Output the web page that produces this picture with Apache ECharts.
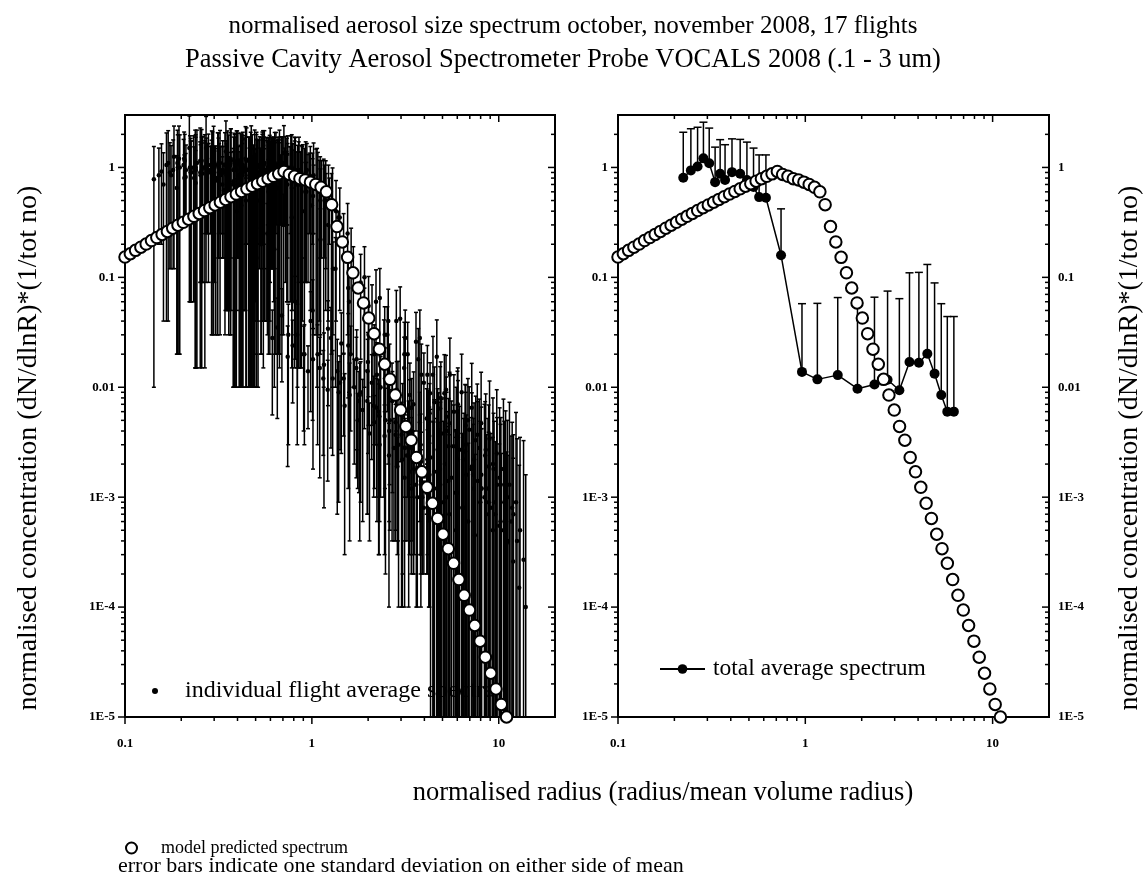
<!DOCTYPE html>
<html>
<head>
<meta charset="utf-8">
<script src="https://cdn.jsdelivr.net/npm/echarts@6/dist/echarts.min.js"></script>
<style>html,body{margin:0;padding:0;background:#fff}#c{width:1147px;height:875px}</style>
</head>
<body>
<div id="c"></div>
<script>
// ---------------- data ----------------
// PCASP bin mid radii (um)
const binRadiusUm = [0.0551,0.0605,0.0657,0.0706,0.0758,0.0815,0.0867,0.0921,0.1003,0.1109,0.1205,0.1307,0.1400,0.1522,0.1833,0.2371,0.2865,0.3680,0.4690,0.5780,0.6790,0.7850,0.8890,0.9980,1.1070,1.2100,1.3140,1.4150,1.5340];
// mean volume radius of the campaign average (um)
const meanMvrUm = 0.247;
// mean volume radius of each of the 17 flights (um)
const flightMvrUm = [0.386,0.363,0.343,0.317,0.291,0.260,0.235,0.206,0.183,0.165,0.150,0.137,0.130,0.124,0.118,0.113,0.110];
// individual flight average spectra (normalised dN/dlnR), one row per flight, one value per bin
const flightMean = [
[0.78,0.92,1.1,1.25,1.0,0.82,0.95,0.72,0.88,0.9,0.76,0.62,0.5,0.4,0.09,0.028,0.019,0.014,0.0095,0.0068,0.005,0.0038,0.003,0.0024,0.0019,0.0015,0.0012,0.001,0.0008],
[0.85,1.05,0.95,1.2,1.15,0.9,1.0,0.85,0.95,0.8,0.7,0.65,0.55,0.45,0.15,0.035,0.024,0.018,0.012,0.0085,0.0062,0.0048,0.0036,0.0028,0.0022,0.0017,0.0013,0.001,0.0008],
[0.7,0.85,1.0,1.05,1.5,1.1,0.9,1.0,0.8,0.85,0.9,0.7,0.6,0.5,0.2,0.045,0.03,0.02,0.014,0.01,0.0075,0.0055,0.004,0.003,0.0024,0.0018,0.0014,0.0011,0.0008],
[0.9,1.1,1.2,1.0,0.95,1.15,1.05,0.9,1.0,0.85,0.75,0.7,0.6,0.55,0.25,0.03,0.02,0.016,0.012,0.009,0.0068,0.005,0.0037,0.0028,0.0021,0.0016,0.0012,0.0009,0.0007],
[0.65,0.8,0.9,1.1,1.0,0.95,1.2,1.1,0.9,0.95,0.8,0.7,0.65,0.5,0.18,0.06,0.04,0.028,0.02,0.014,0.01,0.0075,0.0055,0.004,0.003,0.0022,0.0017,0.0013,0.001],
[0.95,1.0,1.15,1.5,1.2,1.05,0.95,1.1,1.0,0.9,0.85,0.75,0.7,0.6,0.3,0.02,0.015,0.011,0.0085,0.0065,0.005,0.0037,0.0028,0.0021,0.0016,0.0012,0.0009,0.0007,0.0005],
[0.8,0.95,1.05,0.9,1.1,1.4,1.15,0.95,1.05,1.0,0.9,0.8,0.75,0.65,0.35,0.05,0.034,0.024,0.017,0.012,0.0088,0.0065,0.0048,0.0036,0.0027,0.002,0.0015,0.0011,0.0008],
[1.0,1.1,0.95,1.05,1.2,1.1,1.0,1.15,0.9,0.95,1.0,0.85,0.8,0.7,0.4,0.012,0.009,0.0075,0.006,0.0048,0.0038,0.003,0.0023,0.0018,0.0014,0.0011,0.0008,0.0006,0.00045],
[0.75,0.9,1.0,1.1,1.05,0.95,1.2,1.0,1.1,0.9,0.95,0.9,0.8,0.7,0.45,0.12,0.08,0.055,0.04,0.028,0.018,0.0088,0.0064,0.0047,0.0035,0.0026,0.0019,0.0014,0.001],
[0.9,1.05,1.15,1.0,0.95,1.1,1.05,0.9,1.0,0.85,0.8,0.75,0.7,0.6,0.22,0.025,0.018,0.013,0.0095,0.007,0.0052,0.0039,0.0029,0.0022,0.0016,0.0012,0.0009,0.0007,0.0005],
[0.7,0.85,0.95,1.05,1.0,1.15,0.9,1.0,0.95,0.8,0.85,0.7,0.6,0.55,0.3,0.06,0.042,0.03,0.02,0.013,0.0073,0.0054,0.004,0.003,0.0022,0.0016,0.0012,0.0009,0.0006],
[1.1,1.2,1.0,0.9,1.05,1.0,1.1,0.95,0.85,0.9,0.8,0.7,0.65,0.5,0.12,0.015,0.011,0.0085,0.0065,0.005,0.0038,0.0029,0.0022,0.0016,0.0012,0.0009,0.0007,0.0005,0.0004],
[0.85,0.95,1.05,1.1,0.95,1.0,0.9,1.35,1.0,0.95,0.9,0.8,0.7,0.6,0.35,0.09,0.06,0.04,0.026,0.013,0.0095,0.007,0.005,0.0037,0.0027,0.002,0.0015,0.0011,0.0008],
[0.6,0.75,0.85,0.95,1.0,0.9,1.1,1.0,0.95,0.85,0.8,0.75,0.65,0.55,0.2,0.1,0.065,0.042,0.028,0.019,0.013,0.009,0.0065,0.0047,0.0034,0.0025,0.0018,0.0013,0.0009],
[0.9,1.0,1.1,1.2,1.05,1.1,0.95,1.0,0.9,0.95,0.85,0.7,0.6,0.5,0.25,0.03,0.021,0.015,0.011,0.008,0.006,0.0045,0.0033,0.0024,0.0018,0.0013,0.001,0.0007,0.0005],
[0.8,0.9,1.0,0.95,1.1,1.0,0.9,0.95,0.85,0.8,0.75,0.6,0.5,0.4,0.15,0.045,0.03,0.02,0.013,0.0088,0.006,0.0041,0.0028,0.0019,0.0013,0.0009,0.0006,0.0004,0.00027],
[0.7,0.8,0.9,1.0,0.95,0.9,0.85,0.8,0.75,0.7,0.6,0.5,0.45,0.35,0.1,0.02,0.013,0.0085,0.0058,0.004,0.0027,0.0018,0.0012,0.0008,0.00055,0.00038,0.00026,0.00015,0.0001]
];
// one standard deviation of each flight average
const flightSd = [
[0.77,0.72,1.06,1.13,0.98,0.52,0.89,0.705,0.79,0.65,0.73,0.47,0.45,0.39,0.08,0.0224,0.0171,0.0098,0.0081,0.0065,0.0038,0.0034,0.0024,0.0023,0.0016,0.0014,0.001,0.0009,0.0006],
[0.65,1.01,0.83,1.18,0.85,0.84,0.985,0.76,0.7,0.77,0.55,0.6,0.54,0.44,0.13,0.0298,0.0168,0.0162,0.0096,0.0081,0.0056,0.0036,0.0033,0.0024,0.0021,0.0014,0.0012,0.0008,0.0007],
[0.66,0.73,0.98,0.75,1.44,1.085,0.81,0.75,0.77,0.7,0.85,0.69,0.59,0.3,0.18,0.0338,0.027,0.017,0.0133,0.008,0.0068,0.0052,0.0034,0.0029,0.002,0.0015,0.0013,0.0009,0.004],
[0.78,1.08,0.9,0.94,0.935,1.06,0.8,0.87,0.85,0.8,0.74,0.69,0.4,0.51,0.22,0.027,0.016,0.0152,0.0084,0.0081,0.0058,0.0048,0.0033,0.0024,0.0019,0.0014,0.001,0.004,0.0035],
[0.63,0.5,0.84,1.085,0.91,0.7,1.17,0.95,0.85,0.94,0.79,0.5,0.61,0.38,0.17,0.042,0.034,0.0252,0.016,0.0133,0.009,0.0064,0.0053,0.0036,0.0027,0.0019,0.006,0.006,0.005],
[0.65,0.94,1.135,1.41,0.95,1.02,0.8,1.05,0.99,0.89,0.65,0.71,0.58,0.58,0.27,0.017,0.0135,0.0083,0.0081,0.0055,0.0045,0.0036,0.0025,0.0018,0.0015,0.004,0.004,0.003,0.003],
[0.74,0.935,0.96,0.65,1.07,1.25,1.1,0.94,1.04,0.8,0.86,0.68,0.73,0.35,0.3,0.045,0.0272,0.0228,0.0145,0.0108,0.0084,0.0052,0.0042,0.003,0.007,0.006,0.006,0.005,0.005],
[0.985,1.01,0.7,1.02,1.05,1.05,0.99,1.14,0.7,0.91,0.88,0.83,0.5,0.64,0.36,0.0096,0.0081,0.0064,0.0057,0.0043,0.0037,0.0027,0.004,0.003,0.003,0.003,0.003,0.0025,0.002],
[0.66,0.65,0.97,0.95,1.0,0.94,1.19,0.8,1.06,0.78,0.93,0.6,0.74,0.685,0.4,0.09,0.072,0.0468,0.038,0.0224,0.0162,0.0079,0.009,0.009,0.008,0.008,0.007,0.006,0.006],
[0.65,1.02,1.0,0.95,0.94,1.09,0.85,0.86,0.88,0.83,0.5,0.69,0.685,0.51,0.2,0.0225,0.0153,0.0124,0.0076,0.0068,0.0045,0.005,0.005,0.004,0.004,0.004,0.004,0.003,0.003],
[0.67,0.7,0.9,1.04,0.99,0.95,0.86,0.88,0.93,0.5,0.79,0.685,0.51,0.3,0.26,0.051,0.0378,0.024,0.019,0.0117,0.008,0.007,0.006,0.006,0.005,0.005,0.004,0.004,0.004],
[0.95,1.15,0.99,0.89,0.85,0.96,0.98,0.93,0.55,0.84,0.785,0.61,0.4,0.47,0.11,0.0135,0.0088,0.0081,0.0055,0.0044,0.004,0.004,0.003,0.003,0.003,0.003,0.0025,0.002,0.002],
[0.8,0.94,1.04,0.9,0.91,0.88,0.88,1.05,0.94,0.935,0.81,0.55,0.67,0.45,0.3,0.072,0.057,0.036,0.022,0.016,0.01,0.008,0.007,0.007,0.006,0.006,0.005,0.005,0.004],
[0.59,0.74,0.65,0.91,0.88,0.88,0.8,0.94,0.935,0.76,0.55,0.72,0.5,0.5,0.18,0.09,0.0553,0.0399,0.0224,0.022,0.015,0.011,0.01,0.009,0.008,0.007,0.006,0.006,0.005],
[0.89,0.8,1.06,1.08,1.03,0.8,0.89,0.985,0.81,0.7,0.82,0.55,0.55,0.49,0.22,0.0255,0.02,0.0135,0.0095,0.009,0.007,0.006,0.005,0.005,0.004,0.004,0.004,0.003,0.003],
[0.68,0.88,0.7,0.89,1.085,0.91,0.65,0.92,0.7,0.75,0.74,0.59,0.3,0.36,0.13,0.0405,0.024,0.019,0.011,0.011,0.008,0.006,0.005,0.005,0.004,0.004,0.003,0.003,0.003],
[0.64,0.785,0.81,0.75,0.92,0.75,0.8,0.79,0.74,0.5,0.56,0.38,0.43,0.05,0.09,0.017,0.0117,0.0081,0.005,0.005,0.004,0.0035,0.003,0.003,0.0025,0.0022,0.002,0.0018,0.0015]
];
// total average spectrum and its standard deviation
const totalMean = [0.805,0.94,1.02,1.21,1.09,0.735,0.876,0.77,0.906,0.876,0.77,0.663,0.537,0.53,0.159,0.0138,0.0118,0.0129,0.0097,0.0106,0.0117,0.0094,0.017,0.0167,0.0202,0.0133,0.0085,0.006,0.006];
const totalSd = [1.285,1.31,1.30,1.37,1.19,0.795,0.914,0.84,0.914,0.924,0.93,0.837,0.763,0.77,0.261,0.0438,0.0462,0.0526,0.0503,0.0554,0.0633,0.0546,0.093,0.0943,0.1108,0.0757,0.0491,0.038,0.038];
// model predicted spectrum
const modelX = [0.1,0.1068,0.1139,0.1216,0.1298,0.1386,0.148,0.158,0.1686,0.18,
0.1921,0.2051,0.219,0.2337,0.2495,0.2663,0.2843,0.3035,0.324,0.3459,
0.3692,0.3941,0.4207,0.4491,0.4794,0.5117,0.5463,0.5831,0.6225,0.6645,
0.7093,0.757,0.808,0.863,0.921,0.983,1.049,1.12,1.196,1.276,
1.363,1.455,1.553,1.658,1.769,1.889,2.016,2.152,2.298,2.453,
2.618,2.795,2.984,3.185,3.4,3.63,3.875,4.136,4.416,4.713,
5.031,5.37,5.732,6.12,6.531,6.973,7.443,7.946,8.482,9.054,
9.665,10.32,11.01];
const modelY = [0.153,0.164,0.176,0.188,0.201,0.216,0.230,0.246,0.262,0.280,
0.298,0.317,0.338,0.359,0.382,0.405,0.430,0.456,0.483,0.512,
0.542,0.573,0.605,0.639,0.675,0.712,0.750,0.790,0.831,0.874,
0.92,0.864,0.83,0.79,0.77,0.735,0.70,0.66,0.60,0.458,
0.29,0.21,0.152,0.11,0.08,0.0585,0.0426,0.0307,0.0222,0.0162,
0.0118,0.0085,0.0062,0.0044,0.0033,0.0023,0.0017,0.00123,0.00088,0.00064,
0.00046,0.00034,0.00025,0.000178,0.000128,0.000094,0.000068,0.000049,0.000035,0.000025,
0.000018,0.000013,0.00001];
// axes
const X_MIN = 0.1, X_MAX = 20, Y_MIN = 1e-5, Y_MAX = 3;
const xMajorTicks = [0.1, 1, 10];
const yMajorTicks = [1e-5, 1e-4, 1e-3, 0.01, 0.1, 1];
const xTickLabels = ['0.1', '1', '10'];
const yTickLabels = ['1E-5', '1E-4', '1E-3', '0.01', '0.1', '1'];

// ---------------- derived tables ----------------
const xMinorTicks = [], yMinorTicks = [];
xMajorTicks.forEach(m => { for (let k = 2; k <= 9; k++) { const v = +(m * k).toPrecision(6); if (v < X_MAX) xMinorTicks.push(v); } });
yMajorTicks.forEach(m => { for (let k = 2; k <= 9; k++) { const v = +(m * k).toPrecision(6); if (v < Y_MAX) yMinorTicks.push(v); } });

const flightPoints = [];
flightMean.forEach((arr, f) => arr.forEach((m, i) => {
  flightPoints.push([binRadiusUm[i] / flightMvrUm[f], m, flightSd[f][i]]);
}));
const totalPoints = totalMean.map((m, i) => [binRadiusUm[i] / meanMvrUm, m, totalSd[i]]);
const modelPoints = modelX.map((x, i) => [x, modelY[i]]);

const FONT = '"Liberation Serif", "Times New Roman", serif';

function fmtX(v) {
  const e = Math.log10(v); const r = Math.round(e);
  if (Math.abs(e - r) > 1e-6) return '';
  return xTickLabels[r + 1] || '';
}
function fmtY(v) {
  const e = Math.log10(v); const r = Math.round(e);
  if (Math.abs(e - r) > 1e-6) return '';
  return yTickLabels[r + 5] || '';
}

function tickRenderer(params, api) {
  const bl = api.coord([X_MIN, Y_MIN]);
  const tr = api.coord([X_MAX, Y_MAX]);
  const L = bl[0], B = bl[1], R = tr[0], T = tr[1];
  const ch = [];
  const seg = (x1, y1, x2, y2) => ch.push({ type: 'line', shape: { x1, y1, x2, y2 }, style: { stroke: '#000', lineWidth: 1.5 } });
  xMajorTicks.forEach(v => { const p = api.coord([v, Y_MIN])[0]; seg(p, B, p, B + 7); seg(p, T, p, T + 7); });
  xMinorTicks.forEach(v => { const p = api.coord([v, Y_MIN])[0]; seg(p, B, p, B + 4); seg(p, T, p, T + 4); });
  yMajorTicks.forEach(v => { const p = api.coord([X_MIN, v])[1]; seg(L - 7, p, L, p); seg(R - 7, p, R, p); });
  yMinorTicks.forEach(v => { const p = api.coord([X_MIN, v])[1]; seg(L - 4, p, L, p); seg(R - 4, p, R, p); });
  return { type: 'group', children: ch };
}

function flightErrRenderer(params, api) {
  const x = api.value(0), m = api.value(1), sd = api.value(2);
  let lo = m - sd, hi = m + sd;
  const loClamped = lo <= Y_MIN; if (loClamped) lo = Y_MIN;
  const hiClamped = hi >= Y_MAX; if (hiClamped) hi = Y_MAX;
  const pLo = api.coord([x, lo]), pHi = api.coord([x, hi]);
  const st = { stroke: '#000', lineWidth: 1.5 };
  const ch = [{ type: 'line', shape: { x1: pLo[0], y1: pLo[1], x2: pHi[0], y2: pHi[1] }, style: st }];
  if (!hiClamped) ch.push({ type: 'line', shape: { x1: pHi[0] - 2, y1: pHi[1], x2: pHi[0] + 2, y2: pHi[1] }, style: st });
  if (!loClamped) ch.push({ type: 'line', shape: { x1: pLo[0] - 2, y1: pLo[1], x2: pLo[0] + 2, y2: pLo[1] }, style: st });
  return { type: 'group', children: ch };
}

function totalErrRenderer(params, api) {
  const x = api.value(0), m = api.value(1), sd = api.value(2);
  const pM = api.coord([x, m]), pHi = api.coord([x, m + sd]);
  const st = { stroke: '#000', lineWidth: 1.5 };
  return { type: 'group', children: [
    { type: 'line', shape: { x1: pM[0], y1: pM[1], x2: pHi[0], y2: pHi[1] }, style: st },
    { type: 'line', shape: { x1: pHi[0] - 4, y1: pHi[1], x2: pHi[0] + 4, y2: pHi[1] }, style: st }
  ] };
}

const gridBox = { show: true, borderColor: '#000', borderWidth: 2, backgroundColor: 'transparent', containLabel: false };
function xAx(gi) {
  return { type: 'log', logBase: 10, gridIndex: gi, min: X_MIN, max: X_MAX, position: 'bottom',
    axisLine: { show: false }, axisTick: { show: false }, splitLine: { show: false },
    axisLabel: { formatter: fmtX, showMaxLabel: false, showMinLabel: true, margin: 20, color: '#000', fontFamily: FONT, fontWeight: 'bold', fontSize: 13 } };
}
function yAx(gi, pos) {
  return { type: 'log', logBase: 10, gridIndex: gi, min: Y_MIN, max: Y_MAX, position: pos,
    axisLine: { show: false }, axisTick: { show: false }, splitLine: { show: false },
    axisLabel: { formatter: fmtY, showMaxLabel: false, showMinLabel: true, margin: pos === 'left' ? 10 : 9, color: '#000', fontFamily: FONT, fontWeight: 'bold', fontSize: 13 } };
}
const modelStyle = { color: '#fff', borderColor: '#000', borderWidth: 2, opacity: 1 };

const chart = echarts.init(document.getElementById('c'), null, { renderer: 'canvas' });
chart.setOption({
  animation: false,
  backgroundColor: '#fff',
  grid: [
    Object.assign({ left: 125, top: 115, width: 430, height: 602 }, gridBox),
    Object.assign({ left: 618, top: 115, width: 431, height: 602 }, gridBox)
  ],
  xAxis: [xAx(0), xAx(1)],
  yAxis: [yAx(0, 'left'), yAx(1, 'left'), yAx(1, 'right')],
  legend: [
    { data: [{ name: 'individual flight average spectra', icon: 'circle' }], left: 147, top: 674, orient: 'horizontal',
      itemWidth: 6, itemHeight: 6, selectedMode: false,
      textStyle: { fontFamily: FONT, fontSize: 24, color: '#000', padding: [0, 0, 0, 22] } },
    { data: ['total average spectrum'], left: 654, top: 652, itemWidth: 45, itemHeight: 12, selectedMode: false,
      textStyle: { fontFamily: FONT, fontSize: 23.5, color: '#000', padding: [0, 0, 0, 3] } },
    { data: ['model predicted spectrum'], left: 120, top: 834, itemWidth: 11, itemHeight: 11, selectedMode: false,
      textStyle: { fontFamily: FONT, fontSize: 18, color: '#000', padding: [0, 0, 0, 19] } }
  ],
  graphic: [
    { type: 'text', x: 573, y: 26, style: { text: 'normalised aerosol size spectrum october, november 2008, 17 flights', fontFamily: FONT, fontSize: 25, fill: '#000', align: 'center', verticalAlign: 'middle' } },
    { type: 'text', x: 563, y: 60, style: { text: 'Passive Cavity Aerosol Spectrometer Probe VOCALS 2008 (.1 - 3 um)', fontFamily: FONT, fontSize: 26.5, fill: '#000', align: 'center', verticalAlign: 'middle' } },
    { type: 'text', x: 29, y: 448, rotation: Math.PI / 2, style: { text: 'normalised concentration (dN/dlnR)*(1/tot no)', fontFamily: FONT, fontSize: 28, fill: '#000', align: 'center', verticalAlign: 'middle' } },
    { type: 'text', x: 1130, y: 448, rotation: Math.PI / 2, style: { text: 'normalised concentration (dN/dlnR)*(1/tot no)', fontFamily: FONT, fontSize: 28, fill: '#000', align: 'center', verticalAlign: 'middle' } },
    { type: 'text', x: 663, y: 793, style: { text: 'normalised radius (radius/mean volume radius)', fontFamily: FONT, fontSize: 26.5, fill: '#000', align: 'center', verticalAlign: 'middle' } },
    { type: 'text', x: 118, y: 866, style: { text: 'error bars indicate one standard deviation on either side of mean', fontFamily: FONT, fontSize: 22, fill: '#000', align: 'left', verticalAlign: 'middle' } }
  ],
  series: [
    { type: 'custom', name: 'ticks0', xAxisIndex: 0, yAxisIndex: 0, data: [[1, 1]], renderItem: tickRenderer, silent: true, z: 10 },
    { type: 'custom', name: 'ticks1', xAxisIndex: 1, yAxisIndex: 1, data: [[1, 1]], renderItem: tickRenderer, silent: true, z: 10 },
    { type: 'custom', name: 'flight error', xAxisIndex: 0, yAxisIndex: 0, data: flightPoints, encode: { x: 0, y: 1 }, renderItem: flightErrRenderer, clip: true, silent: true, z: 2 },
    { type: 'scatter', name: 'individual flight average spectra', xAxisIndex: 0, yAxisIndex: 0, data: flightPoints.map(p => [p[0], p[1]]), symbol: 'circle', symbolSize: 4.5, itemStyle: { color: '#000', opacity: 1 }, silent: true, z: 3 },
    { type: 'scatter', name: 'model predicted spectrum', xAxisIndex: 0, yAxisIndex: 0, data: modelPoints, symbol: 'circle', symbolSize: 11.5, itemStyle: modelStyle, silent: true, z: 5 },
    { type: 'custom', name: 'total error', xAxisIndex: 1, yAxisIndex: 1, data: totalPoints, encode: { x: 0, y: 1 }, renderItem: totalErrRenderer, clip: true, silent: true, z: 2 },
    { type: 'line', name: 'total average spectrum', xAxisIndex: 1, yAxisIndex: 1, data: totalPoints.map(p => [p[0], p[1]]), symbol: 'circle', symbolSize: 10, showSymbol: true,
      itemStyle: { color: '#000', opacity: 1 }, lineStyle: { color: '#000', width: 1.5 }, silent: true, z: 4 },
    { type: 'scatter', name: 'model predicted spectrum', xAxisIndex: 1, yAxisIndex: 1, data: modelPoints, symbol: 'circle', symbolSize: 11.5, itemStyle: modelStyle, silent: true, z: 5 }
  ]
});
</script>
</body>
</html>
